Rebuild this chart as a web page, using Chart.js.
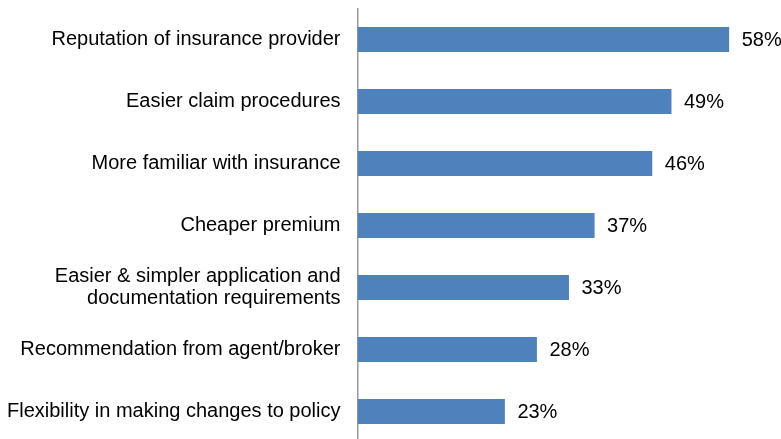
<!DOCTYPE html>
<html>
<head>
<meta charset="utf-8">
<script src="https://cdn.jsdelivr.net/npm/chart.js@4/dist/chart.umd.min.js"></script>
<style>
html,body{margin:0;padding:0;background:#fff;overflow:hidden;}
#wrap{position:relative;width:781px;height:447px;}
</style>
</head>
<body>
<div id="wrap"><canvas id="c"></canvas></div>
<script>
const categories = [
  "Reputation of insurance provider",
  "Easier claim procedures",
  "More familiar with insurance",
  "Cheaper premium",
  ["Easier & simpler application and", "documentation requirements"],
  "Recommendation from agent/broker",
  "Flexibility in making changes to policy"
];
const values = [58, 49, 46, 37, 33, 28, 23];
const valueLabels = ["58%", "49%", "46%", "37%", "33%", "28%", "23%"];

const FONT = "'Liberation Sans', Arial, sans-serif";

const valueLabelPlugin = {
  id: 'valueLabels',
  afterDatasetsDraw(chart) {
    const ctx = chart.ctx;
    const meta = chart.getDatasetMeta(0);
    ctx.save();
    ctx.font = "20px " + FONT;
    ctx.fillStyle = "#000";
    ctx.textAlign = "left";
    ctx.textBaseline = "middle";
    meta.data.forEach((bar, i) => {
      ctx.fillText(valueLabels[i], bar.x + 12.5, bar.y + 1);
    });
    ctx.restore();
  }
};

new Chart(document.getElementById('c'), {
  type: 'bar',
  data: {
    labels: categories,
    datasets: [{
      data: values,
      backgroundColor: '#4F81BD',
      borderWidth: 0,
      barPercentage: 0.4,
      categoryPercentage: 1.0
    }]
  },
  options: {
    indexAxis: 'y',
    responsive: true,
    maintainAspectRatio: false,
    animation: false,
    layout: { padding: { top: 8.5, bottom: 4.5, left: 0, right: 7 } },
    plugins: { legend: { display: false }, tooltip: { enabled: false } },
    scales: {
      x: { display: false, min: 0, max: 65 },
      y: {
        afterFit(scale) {
          scale.width = 357.5;
          scale.paddingTop = 0;
          scale.paddingBottom = 0;
        },
        grid: { display: false, drawTicks: false },
        border: { display: true, color: '#999999', width: 1.5 },
        ticks: {
          padding: 17,
          color: '#000',
          font: { family: FONT, size: 20, lineHeight: 1.1 }
        }
      }
    }
  },
  plugins: [valueLabelPlugin]
});
</script>
</body>
</html>
